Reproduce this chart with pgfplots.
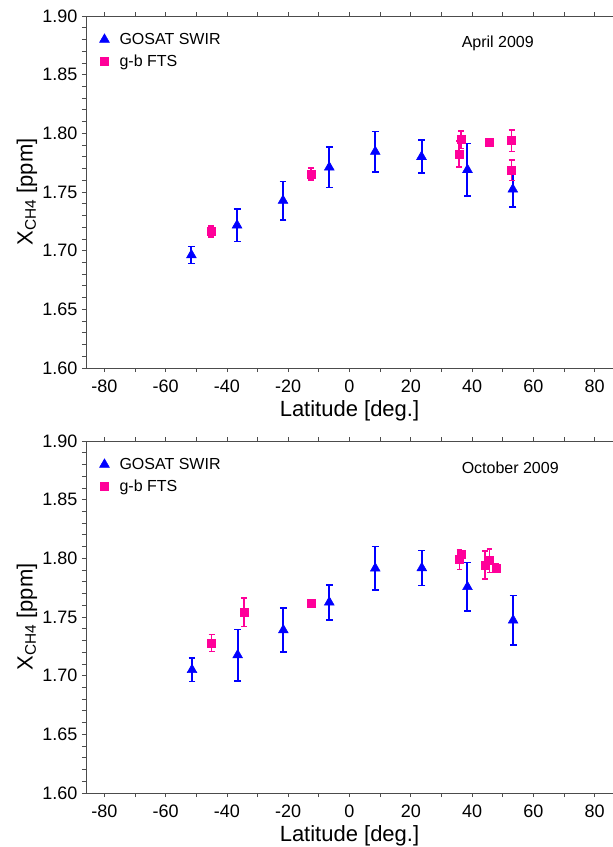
\documentclass[border=0pt]{standalone}
\usepackage{fontspec}
\setmainfont{Liberation Sans}
\usepackage{pgfplots}
\pgfplotsset{compat=1.18}
\usepackage{pgfplotstable}

\definecolor{gosat}{RGB}{0,0,255}
\definecolor{fts}{RGB}{255,0,153}

% latitude, XCH4, error
\pgfplotstableread{
lat   x      e
-51.6 1.6963 0.0071
-36.7 1.7217 0.0140
-21.7 1.7427 0.0164
-6.6  1.7711 0.0171
8.4   1.7844 0.0173
23.5  1.7801 0.0141
38.5  1.7690 0.0224
53.3  1.7523 0.0149
}\gosatapr
\pgfplotstableread{
lat   x      e
-45.2 1.7163 0.0046
-12.6 1.7654 0.0050
35.8  1.7823 0.0111
36.4  1.7946 0.0073
45.7  1.7920 0.0000
52.9  1.7937 0.0090
52.9  1.7686 0.0087
}\ftsapr
\pgfplotstableread{
lat   x      e
-51.4 1.7050 0.0101
-36.5 1.7176 0.0219
-21.6 1.7389 0.0188
-6.6  1.7626 0.0149
8.4   1.7915 0.0185
23.6  1.7918 0.0150
38.5  1.7757 0.0206
53.4  1.7472 0.0213
}\gosatoct
\pgfplotstableread{
lat   x      e
-45.0 1.7278 0.0072
-34.5 1.7540 0.0121
-12.4 1.7617 0.0000
35.9  1.7990 0.0085
36.5  1.8034 0.0030
44.2  1.7943 0.0118
45.7  1.7980 0.0100
47.8  1.7918 0.0040
}\ftsoct

\pgfplotsset{
  panel/.style={
    scale only axis,
    width=395.25pt, height=264pt,
    xmin=-86, xmax=86, ymin=1.60, ymax=1.90,
    axis x line=box, axis y line=left,
    axis line style={-, black!70, line width=0.6pt},
    tick align=outside,
    tick style={black!70, line width=0.6pt},
    major tick length=3pt, minor tick length=3pt,
    xtick={-80,-60,...,80}, minor x tick num=1,
    ytick={1.60,1.65,...,1.91}, minor y tick num=4,
    yticklabel style={/pgf/number format/.cd, fixed, fixed zerofill, precision=2},
    xticklabel style={yshift=-2.5pt},
    /pgf/number format/assume math mode=true,
    ticklabel style={font=\fontsize{13.5}{15}\selectfont},
    label style={font=\fontsize{16.5}{19}\selectfont},
    xlabel={Latitude [deg.]},
    ylabel={X\textsubscript{CH4} [ppm]},
    xlabel style={yshift=1pt},
    ylabel style={yshift=-3pt},
    legend style={draw=none, fill=none, at={(0.0135,0.968)}, anchor=north west,
      font=\fontsize{12}{14}\selectfont, row sep=2.5pt},
    legend cell align=left,
    legend image code/.code={
      \path (0cm,0cm) (0.5cm,0cm);
      \draw[#1] plot coordinates {(0.18cm,0cm)};},
  },
  gos/.style={only marks, mark=triangle*, mark size=4.2pt, color=gosat,
    mark options={fill=gosat, draw=gosat, solid},
    error bars/.cd, y dir=both, y explicit,
    error bar style={line width=1.5pt, draw=gosat, solid},
    error mark options={rotate=90, mark size=2.6pt, line width=1.2pt, draw=gosat}},
  ftsst/.style={only marks, mark=square*, mark size=3pt, color=fts,
    mark options={fill=fts, draw=fts, solid},
    error bars/.cd, y dir=both, y explicit,
    error bar style={line width=1.25pt, draw=fts, solid},
    error mark options={rotate=90, mark size=2.2pt, line width=1.1pt, draw=fts}},
}

\begin{document}
\begin{tikzpicture}
\useasboundingbox (0,0) rectangle (459.75pt,-635.25pt);

\begin{axis}[panel, at={(64.5pt,-276pt)}, anchor=south west]
  \addplot[gos] table[x=lat, y=x, y error=e] {\gosatapr};
  \addlegendentry{GOSAT SWIR}
  \addplot[ftsst] table[x=lat, y=x, y error=e] {\ftsapr};
  \addlegendentry{g-b FTS}
  \node[anchor=west, font=\fontsize{12}{14}\selectfont] at (axis cs:35.1,1.877) {April 2009};
\end{axis}

\begin{axis}[panel, at={(64.5pt,-594.75pt)}, anchor=south west]
  \addplot[gos] table[x=lat, y=x, y error=e] {\gosatoct};
  \addlegendentry{GOSAT SWIR}
  \addplot[ftsst] table[x=lat, y=x, y error=e] {\ftsoct};
  \addlegendentry{g-b FTS}
  \node[anchor=west, font=\fontsize{12}{14}\selectfont] at (axis cs:35.1,1.877) {October 2009};
\end{axis}
\end{tikzpicture}
\end{document}
